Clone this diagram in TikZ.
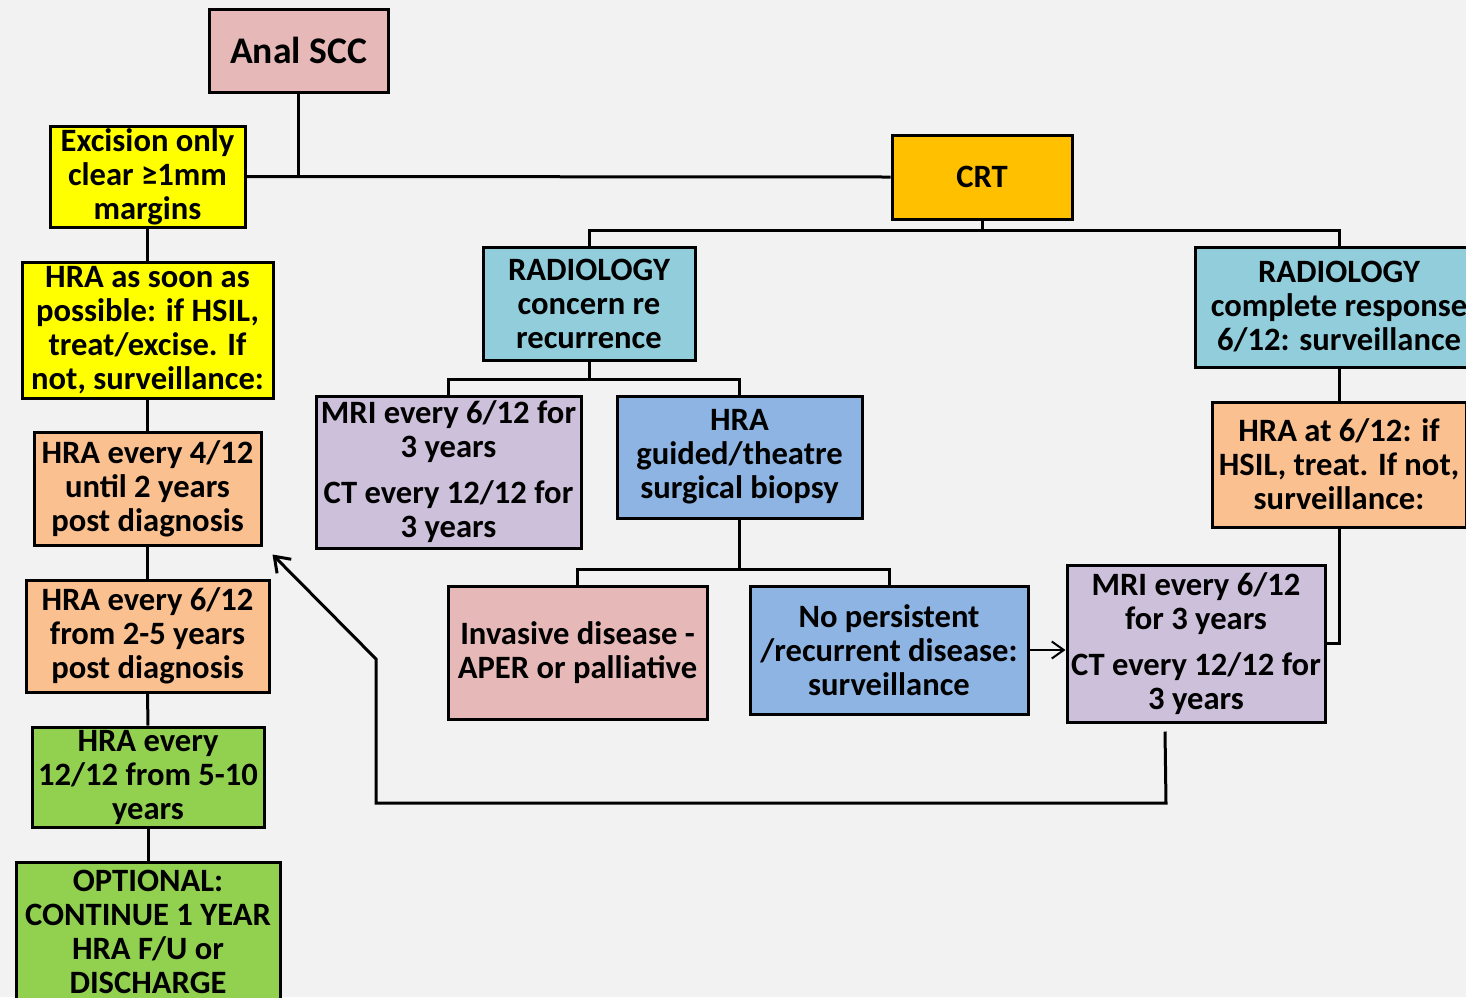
\documentclass[tikz,border=0pt]{standalone}
\usepackage{fontspec}
\setmainfont{Carlito}
\usepackage{tikz}
\usetikzlibrary{calc,arrows.meta}
\definecolor{bgcol}{HTML}{F2F2F2}
\definecolor{pinkcol}{HTML}{E6B8B7}
\definecolor{yellowcol}{HTML}{FFFF00}
\definecolor{peachcol}{HTML}{FAC090}
\definecolor{greencol}{HTML}{92D050}
\definecolor{orangecol}{HTML}{FFC000}
\definecolor{tealcol}{HTML}{92CDDC}
\definecolor{lilaccol}{HTML}{CCC0DA}
\definecolor{bluecol}{HTML}{8DB4E2}
\tikzstyle{flowbox}=[rectangle,draw=black,line width=1.5pt,align=center,inner sep=0pt,
                     font=\fontsize{16.3}{17}\selectfont\bfseries]
\tikzstyle{link}=[line width=1.5pt]
\tikzstyle{barb}=[-{Straight Barb[length=7pt,width=10pt]}]

\begin{document}
\begin{tikzpicture}[x=0.5pt,y=-0.5pt]
    \fill[bgcol] (0,0) rectangle (1466,997);
    \useasboundingbox (0,0) rectangle (1466,997);
    \clip (0,0) rectangle (1466,997);
    % left column
    \node [flowbox,fill=pinkcol,minimum width=89.5pt,minimum height=41.5pt,
           font=\fontsize{18.8}{20}\selectfont\bfseries] (AnalSCC) at (298.5,50.5) {Anal SCC};
    \node [flowbox,fill=yellowcol,minimum width=97.5pt,minimum height=50.5pt] (Excision) at (147.5,176.5) {
        Excision only\\clear ≥1mm\\margins};
    \node [flowbox,fill=yellowcol,minimum width=125.5pt,minimum height=68pt] (HRAsoon) at (147.5,330) {
        HRA as soon as\\possible: if HSIL,\\treat/excise. If\\not, surveillance:};
    \node [flowbox,fill=peachcol,minimum width=113.5pt,minimum height=56.5pt] (HRAfour) at (147.5,488.5) {
        HRA every 4/12\\until 2 years\\post diagnosis};
    \node [flowbox,fill=peachcol,minimum width=121.5pt,minimum height=56pt] (HRAsix) at (147.5,636) {
        HRA every 6/12\\from 2-5 years\\post diagnosis};
    \node [flowbox,fill=greencol,minimum width=116pt,minimum height=50pt] (HRAtwelve) at (148,777) {
        HRA every\\12/12 from 5-10\\years};
    \node [flowbox,fill=greencol,minimum width=132pt,minimum height=70pt] (Optional) at (148,932) {
        OPTIONAL:\\CONTINUE 1 YEAR\\HRA F/U or\\DISCHARGE};
    % CRT branch
    \node [flowbox,fill=orangecol,minimum width=90pt,minimum height=42pt] (CRT) at (982,177) {CRT};
    \node [flowbox,fill=tealcol,minimum width=106pt,minimum height=56.5pt] (RadConcern) at (589,303.5) {
        RADIOLOGY\\concern re\\recurrence};
    \node [flowbox,fill=tealcol,minimum width=144pt,minimum height=60pt] (RadComplete) at (1339,307) {
        RADIOLOGY\\complete response\\6/12: surveillance};
    \node [flowbox,fill=lilaccol,minimum width=132.5pt,minimum height=76pt] (MRIleft) at (448.5,472) {
        MRI every 6/12 for\\3 years\\[6pt]CT every 12/12 for\\3 years};
    \node [flowbox,fill=bluecol,minimum width=122.5pt,minimum height=61pt] (HRAguided) at (739.5,457) {
        HRA\\guided/theatre\\surgical biopsy};
    \node [flowbox,fill=pinkcol,minimum width=129.5pt,minimum height=66.5pt] (Invasive) at (577.5,652.5) {
        Invasive disease -\\APER or palliative};
    \node [flowbox,fill=bluecol,minimum width=139pt,minimum height=64pt] (NoPersist) at (889,650) {
        No persistent\\/recurrent disease:\\surveillance};
    \node [flowbox,fill=lilaccol,minimum width=129pt,minimum height=78.5pt] (MRIright) at (1196,643.5) {
        MRI every 6/12\\for 3 years\\[6pt]CT every 12/12 for\\3 years};
    \node [flowbox,fill=peachcol,minimum width=127pt,minimum height=62.5pt] (HRAat) at (1339,464.5) {
        HRA at 6/12: if\\HSIL, treat. If not,\\surveillance:};
    % connectors
    \draw [link] (Excision.east) -- (CRT.west);
    \draw [link] (AnalSCC.south) -- (AnalSCC.south |- Excision.east);
    \draw [link] (Excision.south) -- (HRAsoon.north);
    \draw [link] (HRAsoon.south) -- (HRAfour.north);
    \draw [link] (HRAfour.south) -- (HRAsix.north);
    \draw [link] (HRAsix.south) -- (HRAtwelve.north);
    \draw [link] (HRAtwelve.south) -- (Optional.north);
    \coordinate (crtbus) at ($(CRT.south)+(0,10)$);
    \draw [link] (CRT.south) -- (crtbus);
    \draw [link] (RadConcern.north) |- (crtbus) -| (RadComplete.north);
    \coordinate (radbus) at ($(RadConcern.south)+(0,18)$);
    \draw [link] (RadConcern.south) -- (radbus);
    \draw [link] (MRIleft.north) |- (radbus) -| (HRAguided.north);
    \coordinate (hrabus) at ($(HRAguided.south)+(0,50)$);
    \draw [link] (HRAguided.south) -- (hrabus);
    \draw [link] (Invasive.north) |- (hrabus) -| (NoPersist.north);
    \draw [link] (RadComplete.south) -- (HRAat.north);
    \draw [link] (HRAat.south) |- (MRIright.east);
    \draw [line width=1pt,-{Straight Barb[length=6pt,width=8.5pt]}] (NoPersist.east) -- (NoPersist.east -| MRIright.west);
    % loop back to the left column
    \coordinate (loopstart) at ($(MRIright.south)+(-31,8)$);
    \coordinate (loopbend) at (376,659);
    \draw [link,barb] (loopstart) -- (1166,803) -- (376,803) -- (loopbend)
        -- ($(HRAfour.south east)+(10,8)$);
\end{tikzpicture}
\end{document}
